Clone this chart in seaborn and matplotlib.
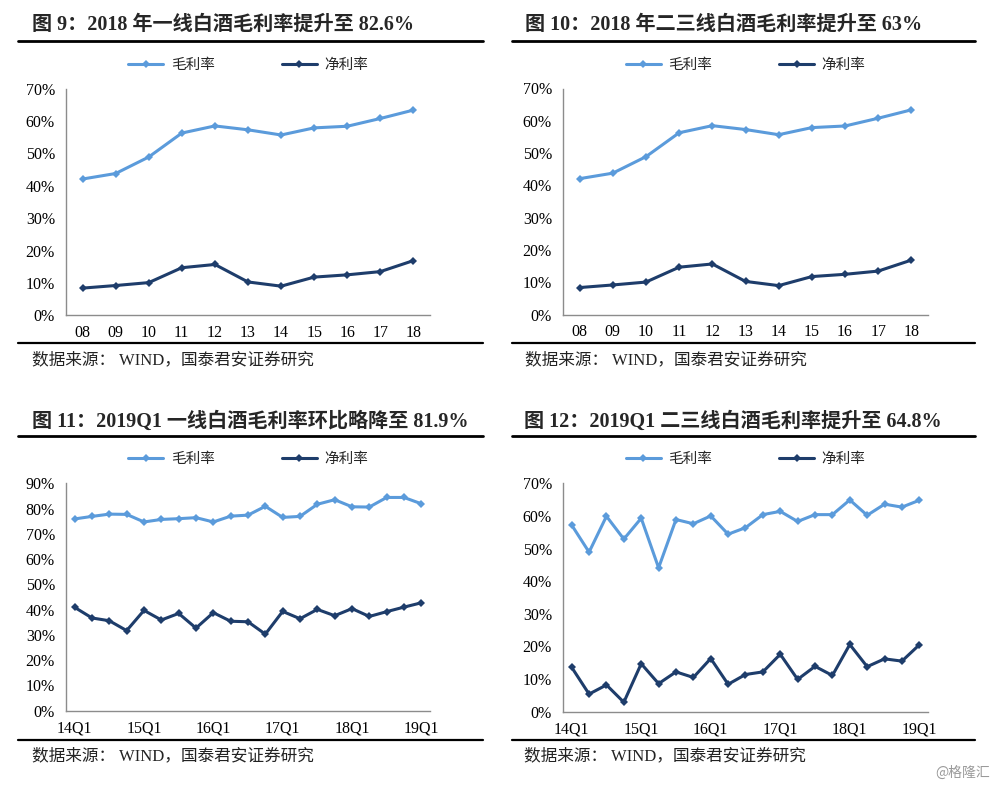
import pandas as pd
import matplotlib
matplotlib.use('Agg')
import matplotlib.pyplot as plt
import seaborn as sns
from matplotlib.lines import Line2D
from matplotlib.ticker import FixedLocator, MultipleLocator, FuncFormatter

# 年度数据 (图9 / 图10)
years = ['08', '09', '10', '11', '12', '13', '14', '15', '16', '17', '18']
gross_t1_year = [42.1, 43.8, 48.9, 56.3, 58.5, 57.3, 55.7, 57.9, 58.4, 60.8, 63.4]
net_t1_year = [8.4, 9.2, 10.1, 14.7, 15.7, 10.3, 9.0, 11.8, 12.5, 13.5, 16.9]
gross_t23_year = [42.1, 43.8, 48.9, 56.3, 58.5, 57.3, 55.7, 57.9, 58.4, 60.8, 63.4]
net_t23_year = [8.4, 9.2, 10.1, 14.7, 15.7, 10.3, 9.0, 11.8, 12.5, 13.5, 16.9]

# 季度数据 (图11 / 图12)
quarters = ['14Q1', '14Q2', '14Q3', '14Q4', '15Q1', '15Q2', '15Q3', '15Q4',
            '16Q1', '16Q2', '16Q3', '16Q4', '17Q1', '17Q2', '17Q3', '17Q4',
            '18Q1', '18Q2', '18Q3', '18Q4', '19Q1']
gross_t1_q = [75.9, 76.9, 77.8, 77.7, 74.7, 75.7, 76.0, 76.4, 74.7, 77.0, 77.4,
              80.9, 76.5, 76.9, 81.7, 83.5, 80.7, 80.6, 84.4, 84.4, 81.9]
net_t1_q = [40.9, 36.7, 35.6, 31.7, 39.7, 35.9, 38.5, 32.7, 38.8, 35.4, 35.2,
            30.3, 39.3, 36.4, 40.1, 37.6, 40.4, 37.3, 39.2, 41.0, 42.7]
gross_t23_q = [57.2, 48.9, 59.9, 52.9, 59.3, 44.1, 58.9, 57.6, 60.0, 54.4, 56.4,
               60.4, 61.4, 58.3, 60.4, 60.4, 64.9, 60.2, 63.6, 62.7, 64.8]
net_t23_q = [13.6, 5.4, 8.2, 2.9, 14.7, 8.6, 12.2, 10.5, 16.3, 8.4, 11.4,
             12.2, 17.6, 9.9, 13.9, 11.1, 20.6, 13.8, 16.2, 15.5, 20.5]

titles = ['图 9：2018 年一线白酒毛利率提升至 82.6%',
          '图 10：2018 年二三线白酒毛利率提升至 63%',
          '图 11：2019Q1 一线白酒毛利率环比略降至 81.9%',
          '图 12：2019Q1 二三线白酒毛利率提升至 64.8%']
source = '数据来源： WIND，国泰君安证券研究'

GROSS_C = '#5B9BDB'
NET_C = '#1E3D6B'
AXIS_C = '#8C8C8C'

sns.set_theme(style='white')
plt.rcParams['font.family'] = ['Liberation Serif', 'Noto Sans CJK SC', 'DejaVu Sans']

W, H = 1000, 787
fig = plt.figure(figsize=(10, 7.87), dpi=100)


def px_axes(left, top, right, bottom):
    return fig.add_axes([left / W, 1 - bottom / H, (right - left) / W, (bottom - top) / H])


def draw(ax, cats, gross, net, ymax, step):
    df = pd.DataFrame({'idx': range(len(cats)), '毛利率': gross, '净利率': net})
    long = df.melt(id_vars='idx', var_name='series', value_name='rate')
    sns.lineplot(data=long, x='idx', y='rate', hue='series', style='series',
                 markers={'毛利率': 'D', '净利率': 'D'}, dashes=False,
                 palette={'毛利率': GROSS_C, '净利率': NET_C},
                 markersize=4.5, markeredgewidth=0, linewidth=2.2,
                 ax=ax, legend=False)
    n = len(cats)
    ax.set_xlim(-0.5, n - 0.5)
    ax.set_ylim(0, ymax)
    ax.xaxis.set_major_locator(FixedLocator(list(range(0, n, step))))
    ax.set_xticklabels([cats[i] for i in range(0, n, step)])
    ax.xaxis.set_minor_locator(FixedLocator([i + 0.5 for i in range(-1, n)]))
    ax.yaxis.set_major_locator(MultipleLocator(10))
    ax.yaxis.set_major_formatter(FuncFormatter(lambda v, p: f'{v:.0f}%'))
    ax.set_xlabel('')
    ax.set_ylabel('')
    for s in ['top', 'right']:
        ax.spines[s].set_visible(False)
    for s in ['left', 'bottom']:
        ax.spines[s].set_color(AXIS_C)
        ax.spines[s].set_linewidth(1.0)
    ax.tick_params(axis='x', which='major', length=0, pad=7, labelsize=11.5, colors='black')
    ax.tick_params(axis='x', which='minor', length=4, direction='in', color=AXIS_C, width=1)
    ax.tick_params(axis='y', which='major', length=4, direction='in', color=AXIS_C,
                   width=1, pad=8, labelsize=11.5, labelcolor='black')
    handles = [Line2D([], [], color=GROSS_C, marker='D', lw=2.2, ms=4.5, mew=0),
               Line2D([], [], color=NET_C, marker='D', lw=2.2, ms=4.5, mew=0)]
    ax.legend(handles, ['毛利率', '净利率'], loc='center', bbox_to_anchor=(0.5, 1.105),
              ncol=2, frameon=False, handlelength=2.4, columnspacing=4.6,
              handletextpad=0.5, prop={'family': 'Noto Sans CJK SC', 'size': 10.5})


def decorate(x0, x1, tx, ty, rule_top, rule_bot, src_y, title):
    fig.text(tx / W, 1 - ty / H, title, fontsize=14.5, fontweight='bold',
             va='center', ha='left')
    fig.add_artist(Line2D([x0 / W, x1 / W], [1 - rule_top / H] * 2, color='black', lw=2.0))
    fig.add_artist(Line2D([x0 / W, x1 / W], [1 - rule_bot / H] * 2, color='black', lw=1.6))
    fig.text(tx / W, 1 - src_y / H, source, fontsize=12, va='center', ha='left',
             color='#222222')


ax1 = px_axes(66, 88.7, 430, 315.3)
draw(ax1, years, gross_t1_year, net_t1_year, 70, 1)
ax2 = px_axes(563, 88.5, 928, 314.7)
draw(ax2, years, gross_t23_year, net_t23_year, 70, 1)
ax3 = px_axes(66, 483.3, 430, 710.7)
draw(ax3, quarters, gross_t1_q, net_t1_q, 90, 4)
ax4 = px_axes(563, 483.3, 928, 711.7)
draw(ax4, quarters, gross_t23_q, net_t23_q, 70, 4)

decorate(18, 483, 32, 25, 41, 343, 360, titles[0])
decorate(512, 975, 525, 25, 41, 343, 360, titles[1])
decorate(18, 483, 32, 422, 436, 740, 756, titles[2])
decorate(512, 975, 524, 422, 436, 740, 756, titles[3])

fig.text(0.99, 1 - 773 / H, '@格隆汇', fontsize=10, color='#9A9A9A', ha='right', va='center',
         family=['Noto Sans CJK SC', 'DejaVu Sans'])

fig.savefig('out.png', dpi=100, facecolor='white')
